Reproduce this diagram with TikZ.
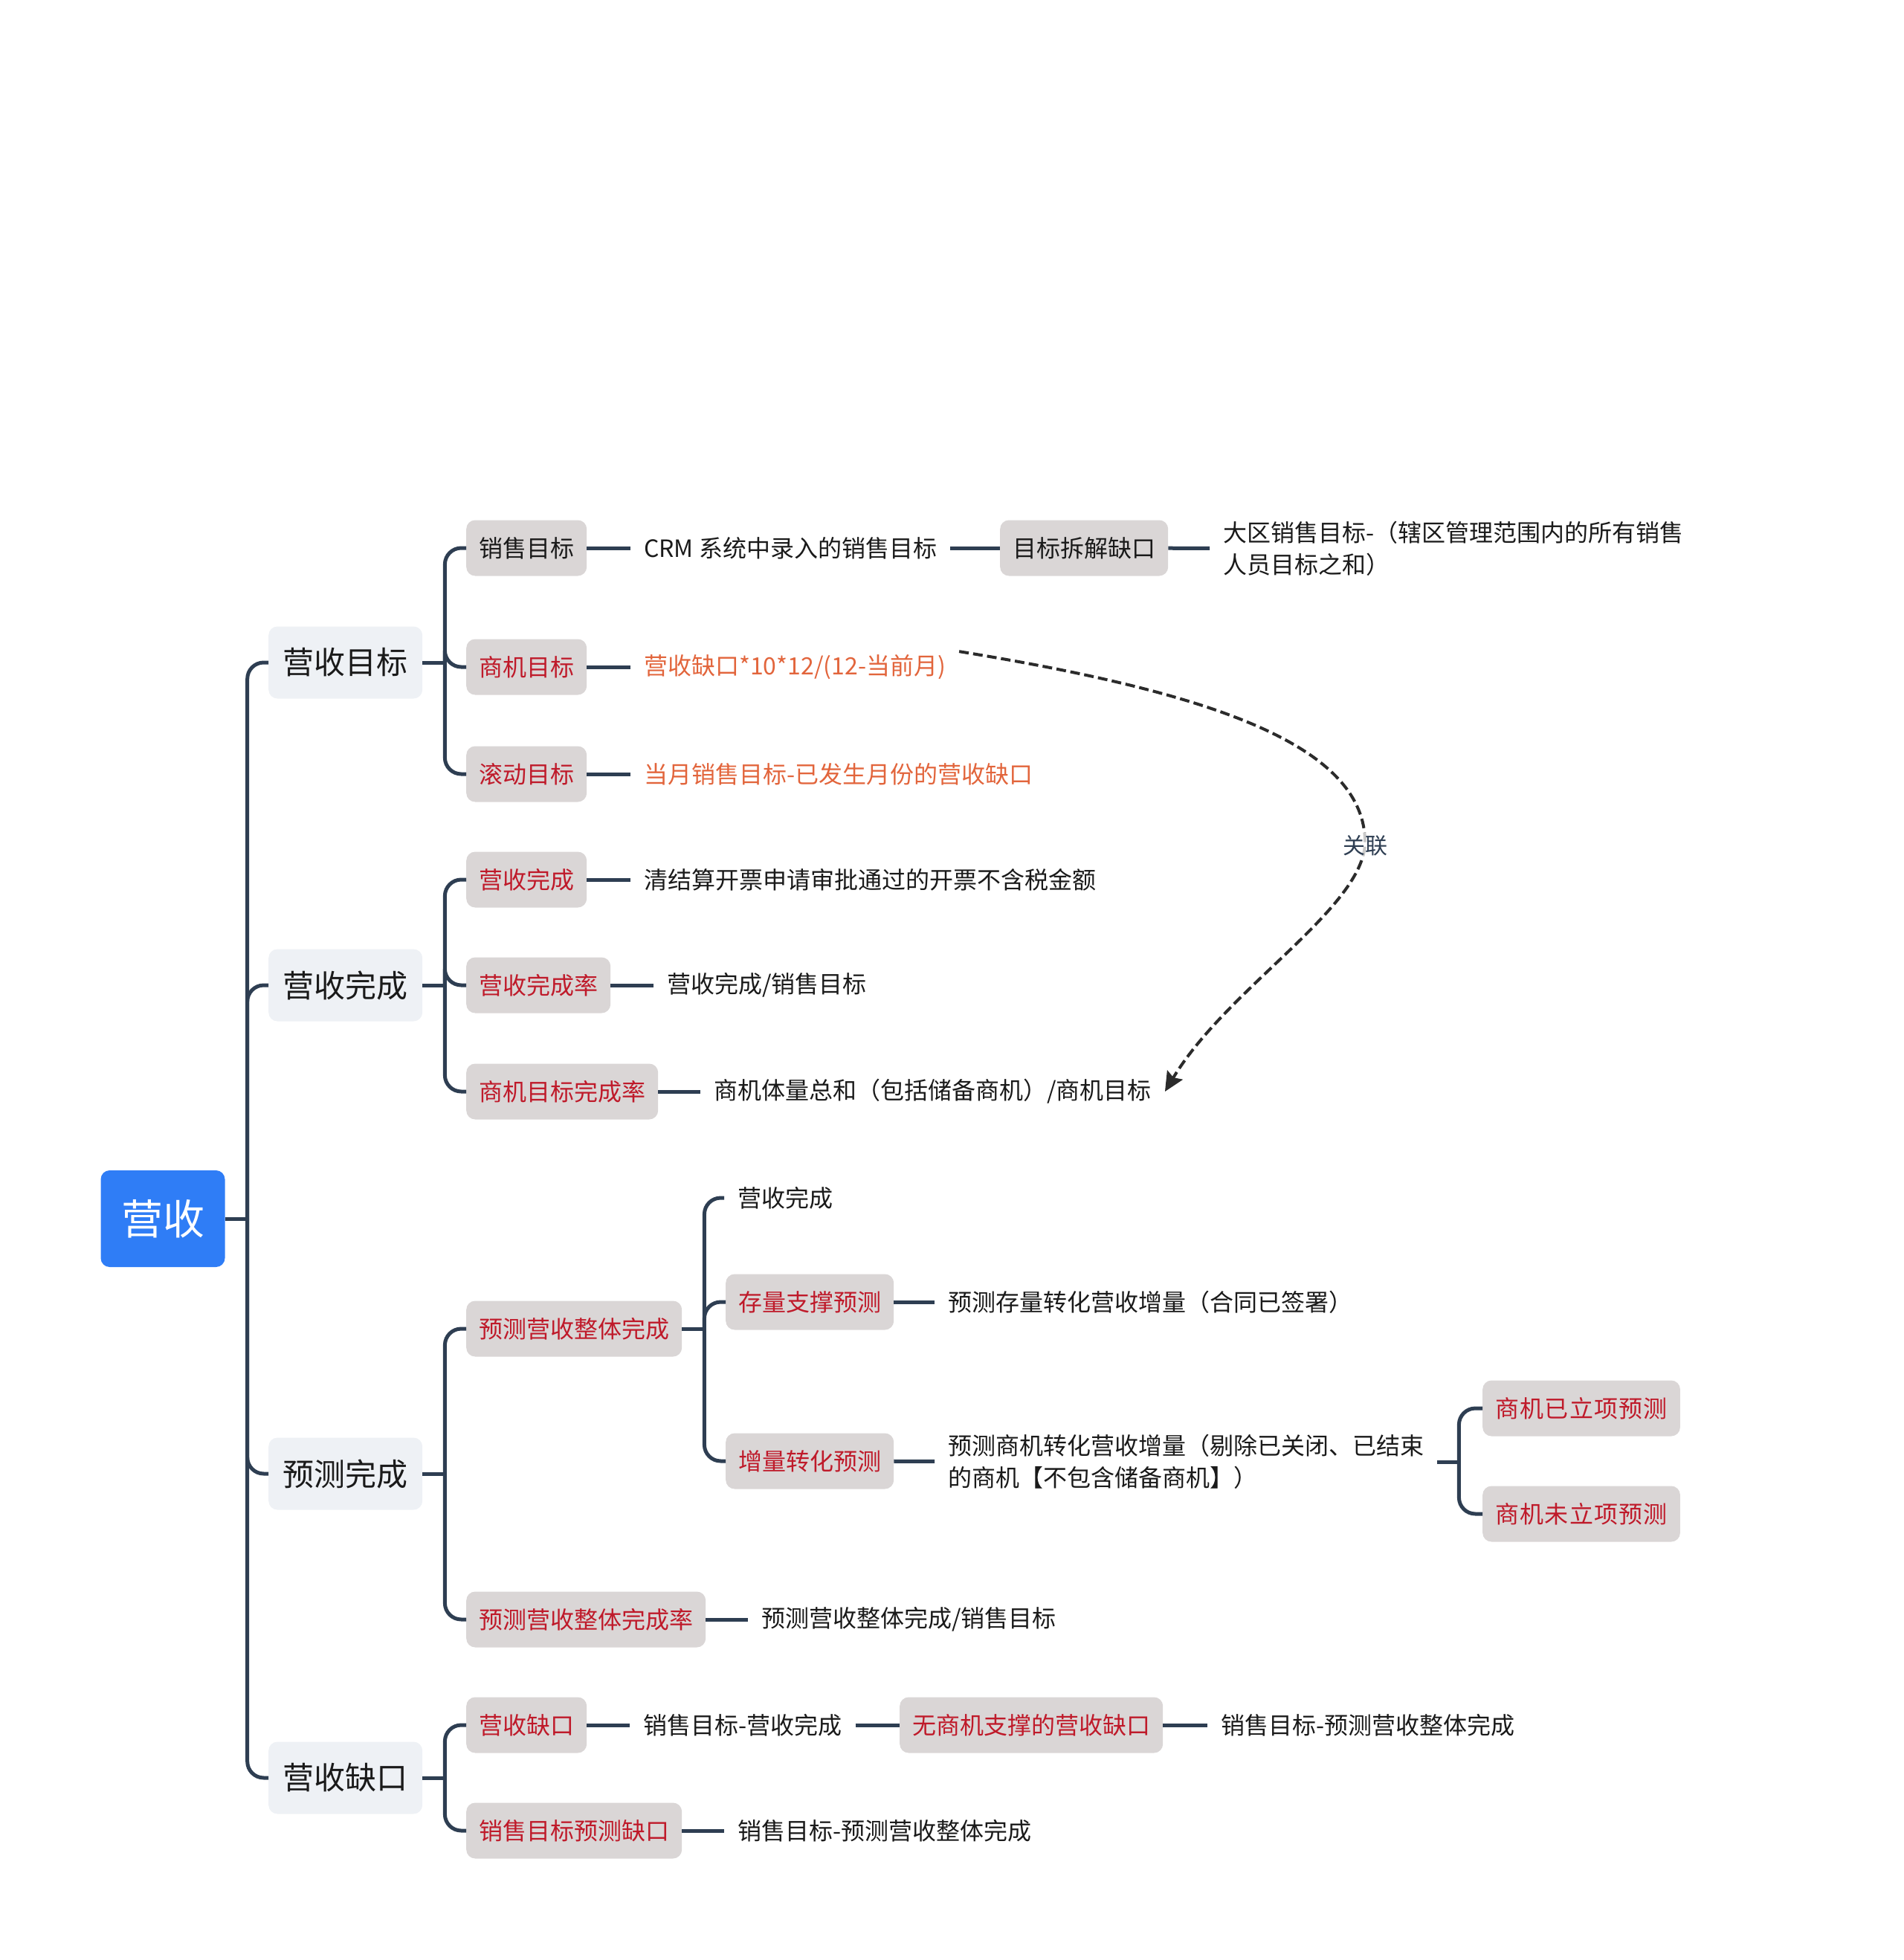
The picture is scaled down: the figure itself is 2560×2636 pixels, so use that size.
\documentclass[tikz,border=0pt]{standalone}
\usepackage{fontspec}
\newfontfamily\cjk{Noto Sans CJK SC}
\newfontfamily\cjkwide[LetterSpace=4]{Noto Sans CJK SC}
\usetikzlibrary{arrows.meta}

\definecolor{rootblue}{HTML}{2F7DF6}
\definecolor{topicgray}{HTML}{EEF1F5}
\definecolor{subgray}{HTML}{DAD6D6}
\definecolor{markred}{HTML}{BF1A2A}
\definecolor{hotorange}{HTML}{E2653C}
\definecolor{linknavy}{HTML}{2E3E52}
\definecolor{relgray}{HTML}{2B2B2B}
\definecolor{ink}{HTML}{1A1A1A}

\begin{document}
\begin{tikzpicture}[x=1pt, y=-1pt,
  rootbox/.style={fill=rootblue, text=white, rounded corners=12pt,
    minimum width=167pt, minimum height=130pt,
    font=\cjk\fontsize{56pt}{60pt}\selectfont},
  topicbox/.style={anchor=west, fill=topicgray, text=ink, rounded corners=12pt,
    minimum width=207pt, minimum height=97pt,
    font=\cjk\fontsize{42pt}{48pt}\selectfont},
  subbox/.style={anchor=west, fill=subgray, text=markred, rounded corners=12pt,
    minimum height=75pt, inner xsep=17pt,
    font=\cjk\fontsize{32pt}{43pt}\selectfont},
  widebox/.style={subbox, minimum width=254pt,
    font=\cjkwide\fontsize{32pt}{43pt}\selectfont},
  note/.style={anchor=west, text=ink, inner xsep=18pt, inner ysep=4pt, align=left,
    font=\cjk\fontsize{32pt}{43pt}\selectfont},
  link/.style={draw=linknavy, line width=5pt, rounded corners=22pt},
  relation/.style={draw=relgray, line width=4pt, dash pattern=on 13pt off 6pt,
    -{Stealth[length=26pt, width=24pt, inset=4pt]}},
  linklabel/.style={fill=white, fill opacity=0.75, text opacity=1, text=linknavy,
    inner sep=3pt, font=\cjk\fontsize{30pt}{36pt}\selectfont}]
  \useasboundingbox (0,0) rectangle (2560,2636);

  % Root and the four topics
  \node[rootbox] (rev) at (219,1639) {营收};
  \node[topicbox] (tgt) at (361,891) {营收目标};
  \node[topicbox] (cmp) at (361,1325) {营收完成};
  \node[topicbox] (fct) at (361,1982) {预测完成};
  \node[topicbox] (gap) at (361,2391) {营收缺口};

  % 营收目标
  \node[subbox, text=ink] (salesT) at (627,737) {销售目标};
  \node[note] (crmTxt) at (848,737) {CRM 系统中录入的销售目标};
  \node[subbox, text=ink] (split) at (1345,737) {目标拆解缺口};
  \node[note] (regionTxt) at (1627,738) {大区销售目标-（辖区管理范围内的所有销售\\人员目标之和）};
  \node[subbox] (bizT) at (627,897) {商机目标};
  \node[note, text=hotorange] (bizTxt) at (848,897) {营收缺口*10*12/(12-当前月)};
  \node[subbox] (rollT) at (627,1041) {滚动目标};
  \node[note, text=hotorange] (rollTxt) at (848,1041) {当月销售目标-已发生月份的营收缺口};

  % 营收完成
  \node[subbox] (revDone) at (627,1183) {营收完成};
  \node[note] (invTxt) at (848,1183) {清结算开票申请审批通过的开票不含税金额};
  \node[subbox] (revRate) at (627,1325) {营收完成率};
  \node[note] (rateTxt) at (879,1325) {营收完成/销售目标};
  \node[subbox] (bizRate) at (627,1468) {商机目标完成率};
  \node[note] (bizRateTxt) at (942,1468) {商机体量总和（包括储备商机）/商机目标};

  % 预测完成
  \node[subbox] (fcAll) at (627,1787) {预测营收整体完成};
  \node[note] (fcDone) at (974,1611) {营收完成};
  \node[subbox] (stock) at (976,1751) {存量支撑预测};
  \node[note] (stockTxt) at (1257,1751) {预测存量转化营收增量（合同已签署）};
  \node[subbox] (inc) at (976,1965) {增量转化预测};
  \node[note] (incTxt) at (1257,1966) {预测商机转化营收增量（剔除已关闭、已结束\\的商机【不包含储备商机】）};
  \node[widebox] (projYes) at (1994,1894) {商机已立项预测};
  \node[widebox] (projNo) at (1994,2036) {商机未立项预测};
  \node[subbox] (fcRate) at (627,2178) {预测营收整体完成率};
  \node[note] (fcRateTxt) at (1006,2178) {预测营收整体完成/销售目标};

  % 营收缺口
  \node[subbox] (revGap) at (627,2320) {营收缺口};
  \node[note] (gapTxt) at (847,2320) {销售目标-营收完成};
  \node[subbox] (noBiz) at (1210,2320) {无商机支撑的营收缺口};
  \node[note] (noBizTxt) at (1624,2320) {销售目标-预测营收整体完成};
  \node[subbox] (salesGap) at (627,2462) {销售目标预测缺口};
  \node[note] (salesGapTxt) at (974,2462) {销售目标-预测营收整体完成};

  % Tree connectors
  \coordinate (bus0) at ([xshift=30pt]rev.east);
  \draw[link] (rev) -- (bus0);
  \foreach \n in {tgt,cmp,fct,gap}
    \draw[link] (bus0) |- (\n.west);

  \foreach \p/\kids in {tgt/{salesT,bizT,rollT}, cmp/{revDone,revRate,bizRate},
                        fct/{fcAll,fcRate}, gap/{revGap,salesGap},
                        fcAll/{fcDone,stock,inc}} {
    \coordinate (b-\p) at ([xshift=30pt]\p.east);
    \draw[link] (\p) -- (b-\p);
    \foreach \k in \kids
      \draw[link] (b-\p) |- (\k.west);
  }

  \coordinate (b-inc) at ([xshift=29pt]incTxt.east);
  \draw[link] (incTxt) -- (b-inc);
  \foreach \k in {projYes,projNo}
    \draw[link] (b-inc) |- (\k.west);

  % Straight links
  \foreach \a/\b in {salesT/crmTxt, crmTxt/split, split/regionTxt, bizT/bizTxt,
                     rollT/rollTxt, revDone/invTxt, revRate/rateTxt,
                     bizRate/bizRateTxt, stock/stockTxt, inc/incTxt,
                     fcRate/fcRateTxt, revGap/gapTxt, gapTxt/noBiz,
                     noBiz/noBizTxt, salesGap/salesGapTxt}
    \draw[link] (\a) -- (\b);

  % Relation
  \coordinate (relMid) at (1836,1137);
  \draw[relation] (bizTxt.north east) .. controls (1620,930) and (1840,1000) .. (relMid)
    .. controls (1828,1225) and (1650,1330) .. (bizRateTxt.east);
  \node[linklabel] (rel) at (relMid) {关联};
\end{tikzpicture}
\end{document}
